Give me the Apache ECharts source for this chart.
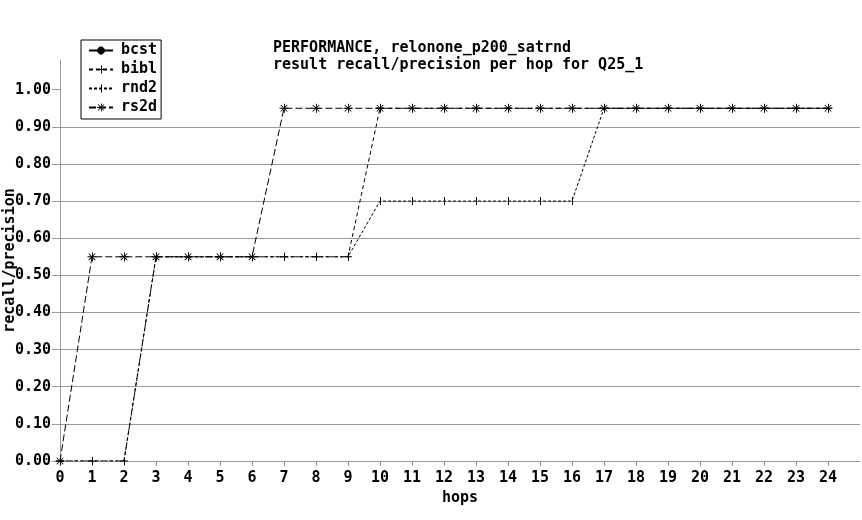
<!DOCTYPE html>
<html>
<head>
<meta charset="utf-8">
<script src="https://cdn.jsdelivr.net/npm/echarts@6/dist/echarts.min.js"></script>
<style>html,body{margin:0;padding:0;background:#fff;}#c{width:862px;height:520px;}</style>
</head>
<body>
<div id="c"></div>
<script>
var hops = [0,1,2,3,4,5,6,7,8,9,10,11,12,13,14,15,16,17,18,19,20,21,22,23,24];
var xTicks = [0,1,2,3,4,5,6,7,8,9,10,11,12,13,14,15,16,17,18,19,20,21,22,23,24];
var yTicks = [0,0.1,0.2,0.3,0.4,0.5,0.6,0.7,0.8,0.9,1.0];
var bcst = [null,null,null,null,null,null,null,null,null,null,null,null,null,null,null,null,null,null,null,null,null,null,null,null,null];
var bibl = [0,0,0,0.55,0.55,0.55,0.55,0.55,0.55,0.55,0.95,0.95,0.95,0.95,0.95,0.95,0.95,0.95,0.95,0.95,0.95,0.95,0.95,0.95,0.95];
var rnd2 = [0,0,0,0.55,0.55,0.55,0.55,0.55,0.55,0.55,0.70,0.70,0.70,0.70,0.70,0.70,0.70,0.95,0.95,0.95,0.95,0.95,0.95,0.95,0.95];
var rs2d = [0,0.55,0.55,0.55,0.55,0.55,0.55,0.95,0.95,0.95,0.95,0.95,0.95,0.95,0.95,0.95,0.95,0.95,0.95,0.95,0.95,0.95,0.95,0.95,0.95];
var titleLines = ['PERFORMANCE, relonone_p200_satrnd', 'result recall/precision per hop for Q25_1'];

var FONT = 'DejaVu Sans Mono';
var STAR = 'path://M0,4.5 L10,4.5 L10,5.5 L0,5.5 Z M5,0 L6,0 L6,10 L5,10 Z M1,1.7 L1.7,1 L9,8.3 L8.3,9 Z M1.7,9 L1,8.3 L8.3,1 L9,1.7 Z';
var PLUS = 'path://M0,3.5 L8,3.5 L8,4.5 L0,4.5 Z M4,0 L5,0 L5,8 L4,8 Z';
var TICK = 'path://M4,0 L5,0 L5,8 L4,8 Z M0,4 L0,4 Z M8,4 L8,4 Z';
var DOT = 'path://M2,0 L4,0 L6,2 L6,4 L4,6 L2,6 L0,4 L0,2 Z';

function pairs(vals){ return hops.map(function(h,i){ return [h, vals[i]]; }); }
function mk(name, vals, symbol, size, dash, z){
  return {
    name: name, type: 'line', data: pairs(vals), symbol: symbol, symbolSize: size,
    symbolKeepAspect: true, showSymbol: true, connectNulls: false, z: z,
    lineStyle: {color: '#000', width: 1, type: dash},
    itemStyle: {color: '#000', borderWidth: 0},
    emphasis: {disabled: true}, animation: false
  };
}

var chart = echarts.init(document.getElementById('c'), null, {renderer: 'canvas'});
chart.setOption({
  backgroundColor: '#fff',
  animation: false,
  title: {
    text: titleLines.join('\n'), left: 273, top: 40, padding: 0,
    textStyle: {fontFamily: FONT, fontSize: 15, fontWeight: 'bold', color: '#000', lineHeight: 17}
  },
  legend: {
    orient: 'vertical', left: 81, top: 40, padding: [3, 4, 4, 7],
    backgroundColor: '#fff', borderColor: '#000', borderWidth: 1, borderRadius: 0,
    itemWidth: 24, itemHeight: 10, itemGap: 4,
    textStyle: {fontFamily: FONT, fontSize: 15, fontWeight: 'bold', color: '#000', padding: [0,0,0,3]},
    data: ['bcst', 'bibl', 'rnd2', 'rs2d'], selectedMode: false
  },
  grid: {left: 60, right: 2, top: 60, bottom: 59, containLabel: false, outerBoundsMode: 'none'},
  xAxis: {
    type: 'value', min: 0, max: 25, interval: 1,
    name: 'hops', nameLocation: 'middle', nameGap: 30, nameMoveOverlap: false,
    nameTextStyle: {fontFamily: FONT, fontSize: 15, fontWeight: 'bold', color: '#000'},
    axisLine: {lineStyle: {color: '#999', width: 1}},
    axisTick: {show: true, length: 5, lineStyle: {color: '#999'}, customValues: xTicks},
    axisLabel: {customValues: xTicks, margin: 10, fontFamily: FONT, fontSize: 15, fontWeight: 'bold', color: '#000'},
    splitLine: {show: false}
  },
  yAxis: {
    type: 'value', min: 0, max: 1.08, interval: 0.1,
    name: 'recall/precision', nameLocation: 'middle', nameGap: 42, nameMoveOverlap: false,
    nameTextStyle: {fontFamily: FONT, fontSize: 15, fontWeight: 'bold', color: '#000'},
    axisLine: {show: true, lineStyle: {color: '#999', width: 1}},
    axisTick: {show: true, length: 8, lineStyle: {color: '#999'}, customValues: yTicks},
    axisLabel: {customValues: yTicks, margin: 9, fontFamily: FONT, fontSize: 15, fontWeight: 'bold', color: '#000',
      formatter: function(v){ return v.toFixed(2); }},
    splitLine: {show: true, showMaxLine: false, lineStyle: {color: '#999', width: 1}}
  },
  series: [
    mk('bcst', bcst, DOT, 5, 'solid', 2),
    mk('bibl', bibl, PLUS, 8, [4, 3], 3),
    mk('rnd2', rnd2, TICK, 8, [3, 2], 4),
    mk('rs2d', rs2d, STAR, 9, [7, 3], 5)
  ]
});
</script>
</body>
</html>
